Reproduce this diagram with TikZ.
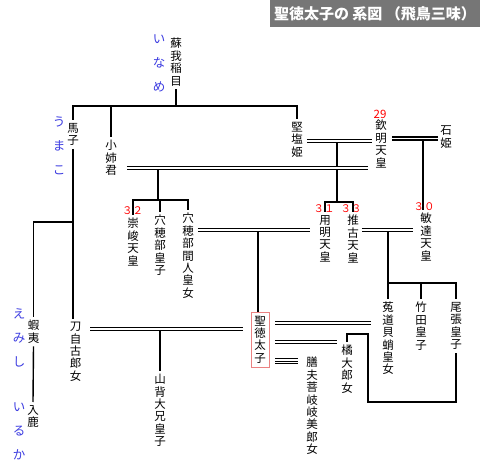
\documentclass[tikz,border=0pt]{standalone}
\usepackage{fontspec}
\newfontfamily\jp{Noto Sans CJK JP}
\definecolor{kanablue}{RGB}{60,60,225}
\definecolor{titlegray}{RGB}{118,118,118}
\definecolor{boxpink}{RGB}{235,130,130}
\begin{document}
\begin{tikzpicture}[x=1pt,y=-1pt,
  nm/.style={font=\jp\fontsize{11.5}{12.4}\selectfont, align=center, inner xsep=1pt, inner ysep=3pt, anchor=north},
  kana/.style={font=\jp\fontsize{12.5}{24}\selectfont, text=kanablue, align=center, inner sep=0pt, anchor=north},
  num/.style={font=\jp\fontsize{10.5}{11}\selectfont, text=red, inner sep=0pt},
  ln/.style={line width=1.4pt},
  mar/.style={double, double distance=1.6pt, line width=1.25pt},
  marb/.style={double, double distance=1.5pt, line width=1.7pt},
]
\fill[white] (0,0) rectangle (480,476);
\useasboundingbox (0,0) rectangle (480,476);

% title
\fill[titlegray] (270,0) rectangle (480,27);
\node[font=\jp\bfseries\fontsize{15}{15}\selectfont, text=white, inner sep=0pt] (title) at (375,13.5) {聖徳太子の 系図 （飛鳥三味）};

% reading kana
\node[kana] (k1) at (159,35) {い\\な\\め};
\node[kana] (k2) at (59,117) {う\\ま\\こ};
\node[kana] (k3) at (19,308) {え\\み\\し};
\node[kana] (k4) at (19,403) {い\\る\\か};

% persons
\node[nm] (iname) at (176,35) {蘇\\我\\稲\\目};
\node[nm] (umako) at (73,120) {馬\\子};
\node[nm] (koane) at (111,137) {小\\姉\\君};
\node[nm] (katashi) at (297,119) {堅\\塩\\姫};
\node[nm] (kinmei) at (381,117) {欽\\明\\天\\皇};
\node[nm] (ishi) at (446,123) {石\\姫};
\node[nm] (sushun) at (133,215) {崇\\峻\\天\\皇};
\node[nm] (anahobe) at (160,212) {穴\\穂\\部\\皇\\子};
\node[nm] (hashi) at (188,210) {穴\\穂\\部\\間\\人\\皇\\女};
\node[nm] (yomei) at (325,212) {用\\明\\天\\皇};
\node[nm] (suiko) at (353,212) {推\\古\\天\\皇};
\node[nm] (bidatsu) at (426,210) {敏\\達\\天\\皇};
\node[nm, anchor=center, draw=boxpink, line width=0.9pt, inner xsep=3pt, inner ysep=3.5pt, minimum width=18pt, minimum height=55pt] (shotoku) at (260,339.5) {聖\\徳\\太\\子};
\node[nm] (udo) at (388,299) {菟\\道\\貝\\蛸\\皇\\女};
\node[nm] (takeda) at (421,299) {竹\\田\\皇\\子};
\node[nm] (owari) at (456,299) {尾\\張\\皇\\子};
\node[nm] (tachibana) at (347,342) {橘\\大\\郎\\女};
\node[nm] (kashiwade) at (312,354) {膳\\夫\\菩\\岐\\岐\\美\\郎\\女};
\node[nm] (tojiko) at (75.5,319) {刀\\自\\古\\郎\\女};
\node[nm] (yamashiro) at (160,371) {山\\背\\大\\兄\\皇\\子};
\node[nm] (emishi) at (33.5,317) {蝦\\夷};
\node[nm] (iruka) at (33,402) {入\\鹿};

% reign numbers
\node[num, font=\jp\fontsize{11.5}{12}\selectfont] (n29) at (380,114) {29};
\node[num] (n32) at (132.5,211) {３２};
\node[num] (n31) at (324,208.5) {３１};
\node[num] (n33) at (351,208.5) {３３};
\node[num] (n30) at (424,207) {３０};

% junction points
\coordinate (busA) at (0,106);
\coordinate (m1) at (337,141);
\coordinate (c2) at (337,202);
\coordinate (m2) at (423,138.5);
\coordinate (m3) at (158,168);
\coordinate (c3) at (158,200);
\coordinate (m4) at (258,230);
\coordinate (m5) at (388,230);
\coordinate (c5) at (388,283);
\coordinate (c6) at (73,222);
\coordinate (m7) at (160,329);
\coordinate (h1) at (368,334);
\coordinate (h2) at (368,402);

% descent lines
\draw[ln] (iname.south) -- (iname.south |- busA);
\draw[ln] (umako.north) -- (umako.north |- busA) -| (katashi.north);
\draw[ln] (koane.north) -- (koane.north |- busA);
\draw[ln] (m1) -- (c2);
\draw[ln] (yomei.north) |- (c2) -| (suiko.north);
\draw[ln] (m2) -- (m2 |- bidatsu.north);
\draw[ln] (m3) -- (c3);
\draw[ln] (sushun.north) |- (c3) -| (hashi.north);
\draw[ln] (anahobe.north) -- (anahobe.north |- c3);
\draw[ln] (m4) -- (m4 |- shotoku.north);
\draw[ln] (m5) -- (m5 |- udo.north);
\draw[ln] (c5) -| (owari.north);
\draw[ln] (takeda.north) -- (takeda.north |- c5);
\draw[ln] (umako.south) -- (umako.south |- tojiko.north);
\draw[ln] (c6) -| (emishi.north);
\draw[ln] (emishi.south) -- (iruka.north);
\draw[ln] (m7) -- (m7 |- yamashiro.north);
\draw[ln] (tachibana.north) |- (h1) -- (h2) -| (owari.south);

% marriage lines
\draw[mar, shorten <=3pt, shorten >=2pt] (katashi.east |- m1) -- (kinmei.west |- m1);
\draw[mar, shorten <=4pt, shorten >=1pt] (kinmei.east |- m2) -- (ishi.west |- m2);
\draw[mar, shorten <=9pt, shorten >=6pt] (koane.east |- m3) -- (kinmei.west |- m3);
\draw[mar, shorten <=3pt, shorten >=8pt] (hashi.east |- m4) -- (yomei.west |- m4);
\draw[marb, shorten <=2pt, shorten >=6pt] (suiko.east |- m5) -- (bidatsu.west |- m5);
\draw[mar, shorten <=8pt, shorten >=8pt] (tojiko.east |- m7) -- (shotoku.west |- m7);
\draw[mar, shorten <=6pt, shorten >=10pt] (shotoku.east |- 0,323) -- (udo.west |- 0,323);
\draw[mar, shorten <=6pt, shorten >=3pt] (shotoku.east |- 0,342) -- (tachibana.west |- 0,342);
\draw[double, double distance=4pt, line width=1pt, shorten <=6pt, shorten >=7pt] (shotoku.east |- 0,361) -- (kashiwade.west |- 0,361);
\draw[line width=1pt, shorten <=6pt, shorten >=7pt] (shotoku.east |- 0,361) -- (kashiwade.west |- 0,361);
\end{tikzpicture}
\end{document}
